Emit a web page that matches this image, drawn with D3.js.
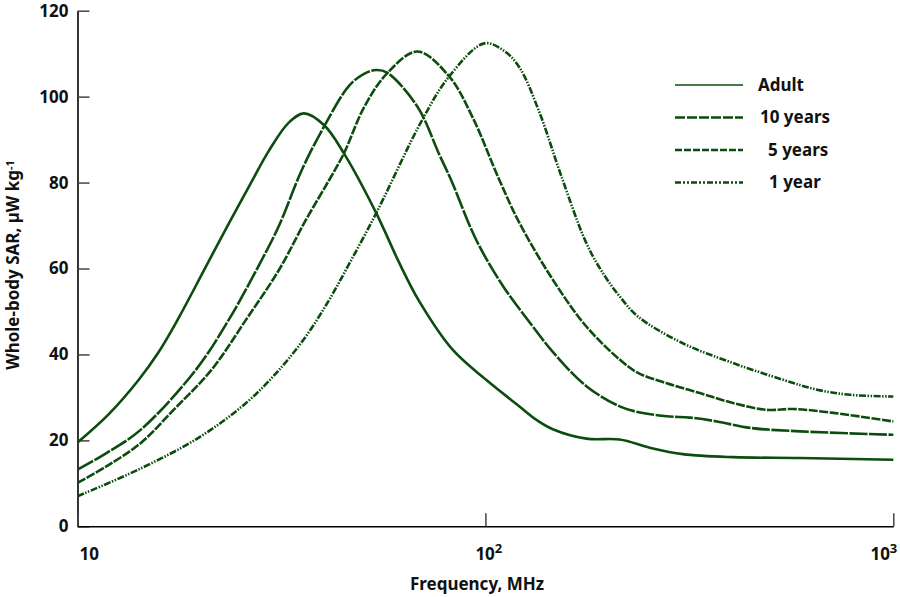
<!DOCTYPE html>
<html>
<head>
<meta charset="utf-8">
<script src="https://cdn.jsdelivr.net/npm/d3@7"></script>
<style>
  html, body { margin: 0; padding: 0; background: #fff; }
  svg { display: block; font-family: "Noto Sans", "Open Sans", sans-serif; }
</style>
</head>
<body>
<svg id="chart" width="900" height="597"></svg>
<script>
// Whole-body SAR versus frequency for four body sizes
const adultFreq = [10, 11.9, 14.1, 15.8, 17.7, 20.4, 23.5, 26.3, 29.5, 33, 35.9, 40.2, 45, 54, 61.5, 68.8, 83.1, 100.4, 121.2, 133.3, 146.3, 176.8, 213.4, 252.9, 304.8, 404.6, 590.9, 1000];
const adultSar  = [19.5, 26, 34, 40.5, 48.5, 59.5, 70.5, 79, 87.5, 94, 96.1, 93.4, 86.8, 72.9, 61.3, 52.4, 41.1, 34.1, 27.9, 24.8, 22.6, 20.4, 20.2, 18.3, 16.8, 16.1, 15.9, 15.5];

const tenFreq = [10, 11.8, 14.3, 19.5, 23.5, 28.3, 31.2, 35.5, 40.2, 46.3, 50.4, 54, 57.4, 68.1, 77.1, 82.4, 94.9, 110.3, 128.3, 146.3, 176.8, 213.4, 233.6, 278.4, 317.1, 369.5, 445.3, 590.9, 1000];
const tenSar  = [13.2, 17.1, 22.5, 36.4, 48.1, 62, 70, 83, 93, 102.5, 105.3, 106.2, 105.6, 97.7, 86.5, 80.6, 66.7, 56, 47.5, 40.6, 32.6, 27.9, 26.7, 25.6, 25.3, 24.4, 22.9, 22.1, 21.3];

const fiveFreq = [10, 11.8, 14.3, 17.2, 21.3, 25.9, 31.2, 36.3, 41.4, 45, 50.4, 57.4, 68.1, 81.5, 92.9, 108.2, 121.2, 146.3, 176.8, 213.4, 236.7, 278.4, 335.6, 404.6, 490.3, 568, 712.3, 1000];
const fiveSar  = [10.1, 14, 19.4, 27.1, 36.4, 48.1, 59.7, 71.3, 80.6, 86.8, 97.5, 105.4, 110.5, 104.7, 95.3, 80.6, 70.6, 57.4, 46.5, 38.8, 35.7, 33.3, 31, 28.7, 27.1, 27.3, 26.4, 24.4];

const oneFreq = [10, 14.1, 19.8, 25.9, 31.2, 36.3, 41.4, 46.3, 54, 70, 81.5, 99.4, 111.3, 121.2, 135.7, 153.5, 176.8, 194.2, 213.4, 236.7, 304.8, 404.6, 536.7, 650.7, 784.3, 1000];
const oneSar  = [7, 13.2, 20.6, 28.7, 36.4, 44.2, 52.7, 61, 72.9, 94.6, 104.7, 112.4, 110.6, 106.8, 96.3, 81.5, 65.9, 58.9, 53.5, 48.8, 42.6, 38, 34.1, 31.8, 30.6, 30.2];

const seriesNames = ["Adult", "10 years", "5 years", "1 year"];
const yTicks = [0, 20, 40, 60, 80, 100, 120];
const xTicks = [10, 100, 1000];
const xTickBase = ["10", "10", "10"];
const xTickExp = ["", "2", "3"];

const series = [
  { name: seriesNames[0], freq: adultFreq, sar: adultSar },
  { name: seriesNames[1], freq: tenFreq, sar: tenSar },
  { name: seriesNames[2], freq: fiveFreq, sar: fiveSar },
  { name: seriesNames[3], freq: oneFreq, sar: oneSar }
].map(s => ({ name: s.name, points: s.freq.map((f, i) => ({ f, v: s.sar[i] })) }));

// line styles per series
const ink = "#0c4c0e";
const curveDash = ["", "18,1.5", "9,1.5", "7,1.5,1.5,1.5,1.5,1.5"];
const legendDash = ["", "10,2", "7,2", "6,2,2,2,2,2"];
const legendWidth = [1.6, 2.6, 2.6, 2.6];
const legendTextX = [758, 760, 768, 769];

const svg = d3.select("#chart");

const x = d3.scaleLog().domain([10, 1000]).range([77.5, 893.3]);
const y = d3.scaleLinear().domain([0, 120]).range([526.3, 10.7]);

// y axis with inward ticks
const yAxis = svg.append("g")
  .attr("transform", `translate(${x.range()[0]},0)`)
  .call(d3.axisLeft(y).tickValues(yTicks).tickSizeInner(-12).tickSizeOuter(0).tickPadding(9));
yAxis.select(".domain").attr("stroke", "#000").attr("stroke-width", 1.6);
yAxis.selectAll(".tick line").attr("stroke", "#444").attr("stroke-width", 1.5);
yAxis.selectAll(".tick text")
  .attr("font-size", 17).attr("font-weight", 700).attr("fill", "#111")
  .attr("font-family", "'Noto Sans', sans-serif");

// x axis with inward ticks, labels drawn separately as powers of ten
const xAxis = svg.append("g")
  .attr("transform", `translate(0,${y(0)})`)
  .call(d3.axisBottom(x).tickValues(xTicks).tickSizeInner(-13).tickSizeOuter(0).tickFormat(() => ""));
xAxis.select(".domain").attr("stroke", "#000").attr("stroke-width", 1.6);
xAxis.selectAll(".tick line").attr("stroke", "#444").attr("stroke-width", 1.5);

xTicks.forEach((t, i) => {
  const txt = svg.append("text")
    .attr("y", 560)
    .attr("font-size", 17).attr("font-weight", 700).attr("fill", "#111");
  if (i === 0) {
    txt.attr("x", x(t) + 2).attr("text-anchor", "start").text(xTickBase[i]);
  } else if (i === 1) {
    txt.attr("x", x(t) - 10).attr("text-anchor", "start");
    txt.append("tspan").text(xTickBase[i]);
    txt.append("tspan").attr("dy", -7).attr("font-size", 13).text(xTickExp[i]);
  } else {
    txt.attr("x", x(t) + 4).attr("text-anchor", "end");
    txt.append("tspan").text(xTickBase[i]);
    txt.append("tspan").attr("dy", -7).attr("font-size", 13).text(xTickExp[i]);
  }
});

// axis titles
svg.append("text")
  .attr("x", 477).attr("y", 590)
  .attr("text-anchor", "middle")
  .attr("font-size", 17).attr("font-weight", 700).attr("fill", "#111")
  .text("Frequency, MHz");

const yTitle = svg.append("text")
  .attr("transform", "translate(19,265) rotate(-90)")
  .attr("text-anchor", "middle")
  .attr("font-size", 17).attr("font-weight", 700).attr("fill", "#111");
yTitle.append("tspan").text("Whole-body SAR, \u00b5W kg");
yTitle.append("tspan").attr("dy", -5).attr("font-size", 11).text("-1");

// curves
const line = d3.line()
  .x(d => x(d.f))
  .y(d => y(d.v))
  .curve(d3.curveCatmullRom.alpha(0.5));

svg.append("g").selectAll("path")
  .data(series)
  .join("path")
  .attr("d", d => line(d.points))
  .attr("fill", "none")
  .attr("stroke", ink)
  .attr("stroke-width", 2.6)
  .attr("stroke-linejoin", "round")
  .attr("stroke-dasharray", (d, i) => curveDash[i] || null);

// legend
const legend = svg.append("g");
series.forEach((s, i) => {
  const ly = 85 + i * 32.5;
  legend.append("line")
    .attr("x1", 675).attr("x2", 743)
    .attr("y1", ly).attr("y2", ly)
    .attr("stroke", ink)
    .attr("stroke-width", legendWidth[i])
    .attr("stroke-dasharray", legendDash[i] || null);
  legend.append("text")
    .attr("x", legendTextX[i]).attr("y", ly)
    .attr("dy", "0.35em")
    .attr("font-size", 17).attr("font-weight", 700).attr("fill", "#111")
    .text(s.name);
});
</script>
</body>
</html>
